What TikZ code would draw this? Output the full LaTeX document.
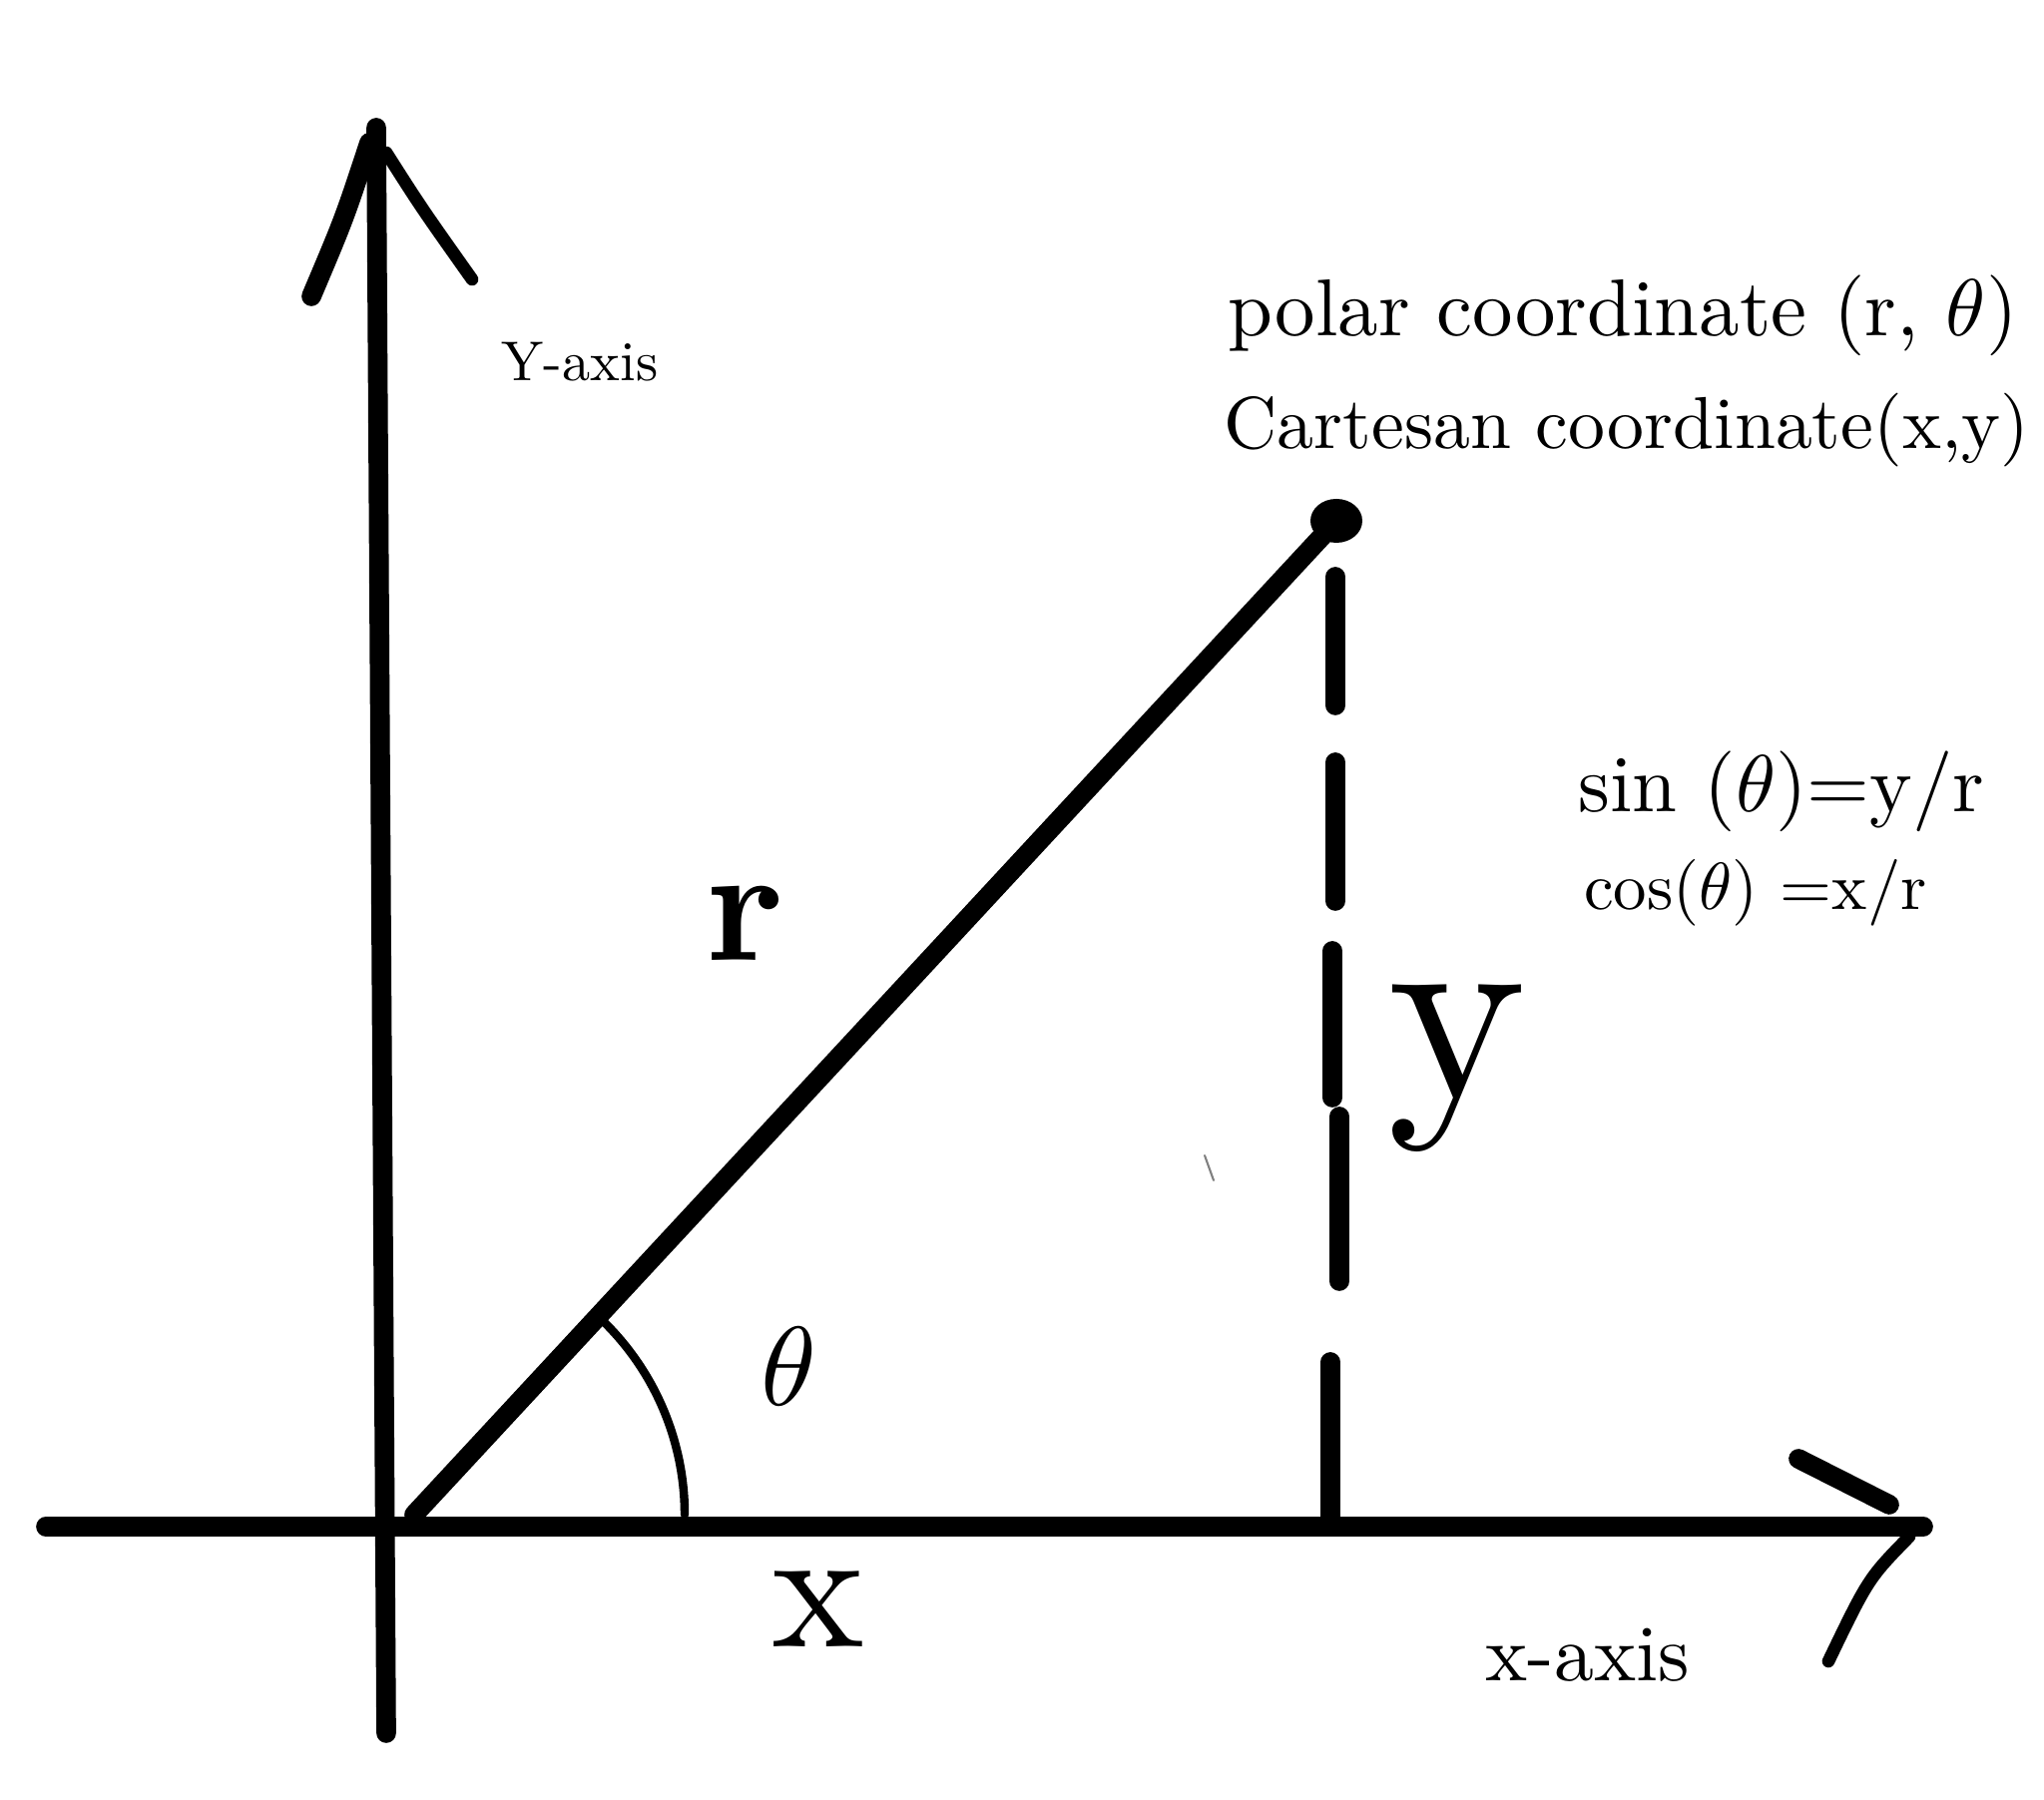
\documentclass[tikz,border=0pt]{standalone}
\usepackage{amsmath,amssymb}
\usepackage{tikz}
\usetikzlibrary{arrows.meta}
\usepackage{xcolor}

\begin{document}
\begin{tikzpicture}[line cap=round,line join=round,
  heavy/.style={line width=5.6pt},
  taper/.style={line width=3.6pt},
  dashseg/.style={line width=5.6pt},
  anglearc/.style={line width=2.4pt},
  lbl/.style={inner sep=0pt}]
\useasboundingbox (0,0) rectangle (20.48,18.04);
\coordinate (O) at (4.15,2.86);
\coordinate (P) at (13.39,12.82);
% axes
\draw[heavy] (3.87,0.67) -- (3.77,16.76);
\draw[heavy] (0.46,2.74) -- (19.27,2.74);
% hand drawn arrow heads
\draw[heavy] (3.12,15.07) .. controls (3.45,15.85) .. (3.70,16.61);
\draw[taper] (3.87,16.51) .. controls (4.22,15.96) .. (4.73,15.24);
\draw[heavy] (18.02,3.42) -- (18.93,2.96);
\draw[taper] (19.13,2.64) .. controls (18.72,2.22) .. (18.32,1.39);
% radius and point
\draw[heavy] (O) -- (P);
\fill (P) ellipse (0.26 and 0.22);
% dashes down to the x axis
\draw[dashseg] (13.38,12.26) -- (13.38,10.97);
\draw[dashseg] (13.38,10.40) -- (13.38,9.01);
\draw[dashseg] (13.35,8.51) -- (13.35,7.04);
\draw[dashseg] (13.42,6.85) -- (13.42,5.20);
\draw[dashseg] (13.33,4.39) -- (13.33,2.80);
% angle
\draw[anglearc] ([shift={(2.71,0)}]O) arc[start angle=0,end angle=47,radius=2.71];
\draw[gray,line width=0.6pt] (12.07,6.46) -- (12.16,6.21);
% labels
\node[lbl,scale=1.6] (yaxis) at (5.81,14.41) {Y-axis};
\node[lbl,scale=2.27] (xaxis) at (15.91,1.45) {x-axis};
\node[lbl,scale=2.3] (polar) at (16.26,14.88) {polar coordinate (r, $\theta$)};
\node[lbl,scale=2.1] (cart) at (16.30,13.73) {Cartesan coordinate(x,y)};
\node[lbl,scale=2.3] (sinrel) at (17.85,10.11) {sin ($\theta$)=y/r};
\node[lbl,scale=1.9] (cosrel) at (17.59,9.09) {cos($\theta$) =x/r};
\node[lbl,scale=4.7,font=\bfseries] (rlbl) at (7.47,8.79) {r};
\node[lbl,scale=7.5] (ylbl) at (14.60,7.33) {y};
\node[lbl,scale=3.2] (thlbl) at (7.90,4.35) {$\theta$};
\node[lbl,scale=5] (xlbl) at (8.20,1.91) {x};
\end{tikzpicture}
\end{document}
